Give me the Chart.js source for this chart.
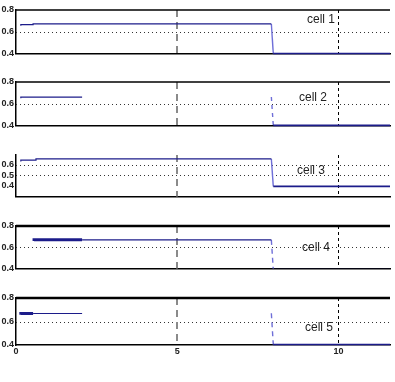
<!DOCTYPE html>
<html>
<head>
<meta charset="utf-8">
<script src="https://cdn.jsdelivr.net/npm/chart.js@4/dist/chart.umd.min.js"></script>
<style>
  html, body { margin: 0; padding: 0; background: #fff; }
  #wrap { position: relative; width: 395px; height: 382px; overflow: hidden; }
  .pane { position: absolute; left: 0; width: 395px; }
  .lbl { position: absolute; font: 12px "Liberation Sans", Arial, sans-serif; color: #222; line-height: 12px; white-space: nowrap; }
</style>
</head>
<body>
<div id="wrap"></div>
<script>
// ---------------- data ----------------
const cellNames = ['cell 1', 'cell 2', 'cell 3', 'cell 4', 'cell 5'];
const xTicks = [0, 5, 10];
const xMax = 11.6;
const switchStart = 7.92;
const switchEnd = 7.98;

// values before the switch (stepped)
const cell1Times  = [0.15, 0.53, 2.05, 7.92];
const cell1Values = [0.655, 0.666, 0.672, 0.672];
const cell2Times  = [0.15, 0.53, 2.05];
const cell2Values = [0.650, 0.661, 0.661];
const cell3Times  = [0.15, 0.62, 2.45, 7.92];
const cell3Values = [0.628, 0.642, 0.654, 0.654];
const cell4Times  = [0.56, 2.05, 7.92];
const cell4Values = [0.660, 0.670, 0.670];
const cell5Times  = [0.15, 0.53, 2.05];
const cell5Values = [0.657, 0.668, 0.668];

// level right before the drop and level after it
const dropTop    = [0.672, 0.662, 0.654, 0.670, 0.670];
const finalLevel = [0.401, 0.402, 0.396, 0.390, 0.404];

// y tick labels per panel
const yTicks1 = [0.4, 0.6, 0.8];
const yTicks2 = [0.4, 0.6, 0.8];
const yTicks3 = [0.4, 0.5, 0.6];
const yTicks4 = [0.4, 0.6, 0.8];
const yTicks5 = [0.4, 0.6, 0.8];
const yRange1 = [0.4, 0.8];
const yRange2 = [0.4, 0.8];
const yRange3 = [0.3, 0.69];
const yRange4 = [0.4, 0.8];
const yRange5 = [0.4, 0.8];

// ---------------- layout / style ----------------
const panes = [
  { top: 10,  bottom: 57,  times: cell1Times, values: cell1Values, yTicks: yTicks1, yRange: yRange1, grids: [0.6], topBorder: 1.5, dropDash: [], thick: null, lbl: [307, 13] },
  { top: 82,  bottom: 129, times: cell2Times, values: cell2Values, yTicks: yTicks2, yRange: yRange2, grids: [0.6], topBorder: 1.5, dropDash: [4, 4], thick: null, lbl: [299, 91] },
  { top: 155, bottom: 200, times: cell3Times, values: cell3Values, yTicks: yTicks3, yRange: yRange3, grids: [0.6, 0.5], topBorder: 0, dropDash: [], thick: null, lbl: [297, 164] },
  { top: 226, bottom: 272, times: cell4Times, values: cell4Values, yTicks: yTicks4, yRange: yRange4, grids: [0.6], topBorder: 2.5, dropDash: [5, 4], thick: [0.56, 2.05], lbl: [302, 241] },
  { top: 298, bottom: 345, times: cell5Times, values: cell5Values, yTicks: yTicks5, yRange: yRange5, grids: [0.6], topBorder: 2.5, dropDash: [5, 4], thick: [0.15, 0.53], lbl: [305, 321] }
];

const NAVY = '#1c1c8a';
const LIGHT = '#6f6fd8';
const PADTOP = 8;

const framePlugin = {
  id: 'frame',
  beforeDatasetsDraw(chart, args, opts) {
    const a = chart.chartArea, c = chart.ctx;
    const xs = chart.scales.x, ys = chart.scales.y;
    c.save();
    c.strokeStyle = '#333';
    c.lineWidth = 1;
    c.setLineDash([1, 3]);
    (opts.grids || []).forEach(g => {
      const y = Math.round(ys.getPixelForValue(g)) + 0.5;
      c.beginPath(); c.moveTo(a.left, y); c.lineTo(a.right, y); c.stroke();
    });
    let x = Math.round(xs.getPixelForValue(5));
    c.strokeStyle = '#8a8a8a'; c.lineWidth = 2; c.setLineDash([7, 5]);
    c.beginPath(); c.moveTo(x, a.top); c.lineTo(x, a.bottom); c.stroke();
    x = Math.round(xs.getPixelForValue(10)) + 0.5;
    c.strokeStyle = '#000'; c.lineWidth = 1; c.setLineDash([3, 3]);
    c.beginPath(); c.moveTo(x, a.top); c.lineTo(x, a.bottom); c.stroke();
    c.restore();
  },
  afterDraw(chart, args, opts) {
    if (!opts.top) return;
    const a = chart.chartArea, c = chart.ctx;
    c.save();
    c.strokeStyle = '#000';
    c.lineWidth = opts.top;
    c.beginPath();
    c.moveTo(a.left, a.top);
    c.lineTo(a.right, a.top);
    c.stroke();
    c.restore();
  }
};

const wrap = document.getElementById('wrap');

panes.forEach((p, i) => {
  const isLast = i === panes.length - 1;
  const bottomH = isLast ? 16 : 4;
  const h = (p.bottom - p.top) + PADTOP + bottomH;
  const div = document.createElement('div');
  div.className = 'pane';
  div.style.top = (p.top - PADTOP) + 'px';
  div.style.height = h + 'px';
  const cv = document.createElement('canvas');
  div.appendChild(cv);
  wrap.appendChild(div);

  const lbl = document.createElement('div');
  lbl.className = 'lbl';
  lbl.textContent = cellNames[i];
  lbl.style.left = p.lbl[0] + 'px';
  lbl.style.top = p.lbl[1] + 'px';
  wrap.appendChild(lbl);

  const pre = p.times.map((t, k) => ({ x: t, y: p.values[k] }));
  const post = [
    { x: switchStart, y: dropTop[i] },
    { x: switchEnd, y: finalLevel[i] },
    { x: xMax, y: finalLevel[i] }
  ];
  const thick = p.thick;

  new Chart(cv, {
    type: 'line',
    data: {
      datasets: [
        {
          data: pre,
          stepped: 'after',
          borderColor: NAVY,
          borderWidth: 1.2,
          pointRadius: 0,
          fill: false,
          clip: 3,
          segment: {
            borderWidth: ctx => (thick && ctx.p0.parsed.x >= thick[0] - 1e-6 && ctx.p1.parsed.x <= thick[1] + 1e-6) ? 3 : 1.2
          }
        },
        {
          data: post,
          borderColor: NAVY,
          borderWidth: 1.6,
          pointRadius: 0,
          fill: false,
          clip: i === 3 ? 0 : 3,
          segment: {
            borderColor: ctx => ctx.p0.parsed.x < switchEnd - 1e-6 ? LIGHT : NAVY,
            borderDash: ctx => ctx.p0.parsed.x < switchEnd - 1e-6 ? p.dropDash : [],
            borderWidth: ctx => ctx.p0.parsed.x < switchEnd - 1e-6 ? 1.4 : 1.6
          }
        }
      ]
    },
    options: {
      responsive: true,
      maintainAspectRatio: false,
      animation: false,
      events: [],
      layout: { padding: { top: PADTOP, left: 0, right: 5, bottom: 0 } },
      plugins: {
        legend: { display: false },
        tooltip: { enabled: false },
        frame: { top: p.topBorder, grids: p.grids }
      },
      scales: {
        x: {
          type: 'linear',
          min: 0,
          max: xMax,
          afterBuildTicks: s => { s.ticks = xTicks.map(v => ({ value: v })); },
          afterFit: s => { s.height = bottomH; },
          ticks: {
            display: isLast,
            padding: 1,
            maxRotation: 0,
            font: { family: 'Liberation Sans', size: 9, weight: 'bold' },
            color: '#222'
          },
          grid: { display: false, drawTicks: false, tickLength: 0 },
          border: { display: true, color: '#000', width: 1.5 }
        },
        y: {
          min: p.yRange[0],
          max: p.yRange[1],
          afterBuildTicks: s => { s.ticks = p.yTicks.map(v => ({ value: v })); },
          afterFit: s => { s.width = 16; },
          ticks: {
            padding: 2,
            font: { family: 'Liberation Sans', size: 9, weight: 'bold' },
            color: '#222',
            callback: v => Number(v).toFixed(1)
          },
          grid: { display: false, drawTicks: false, tickLength: 0 },
          border: { display: true, color: '#000', width: 1.5 }
        }
      }
    },
    plugins: [framePlugin]
  });
});
</script>
</body>
</html>
